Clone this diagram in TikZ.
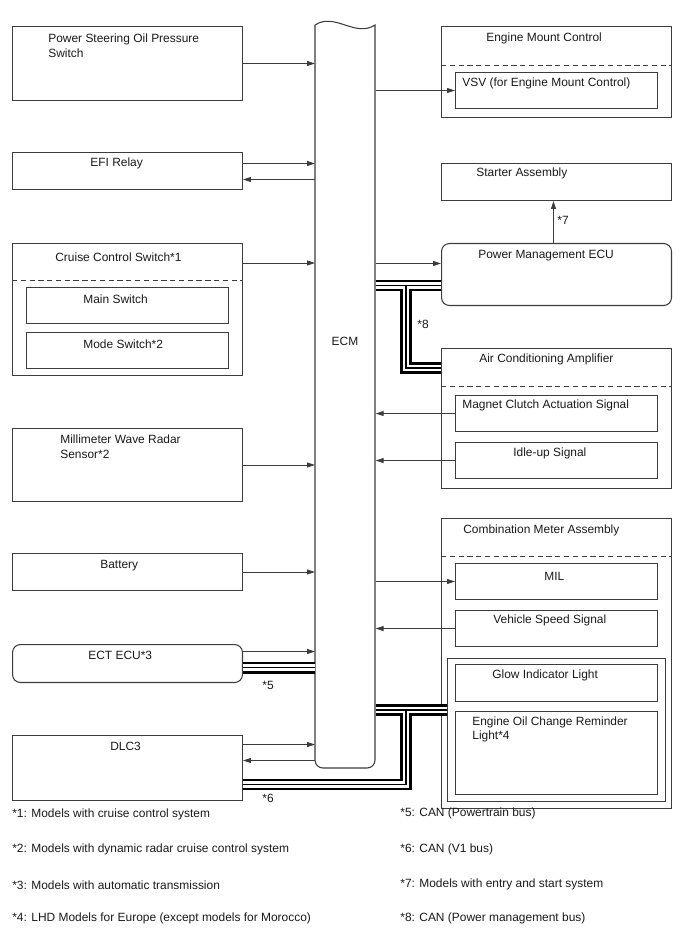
\documentclass[tikz,border=0pt]{standalone}
\usepackage{fontspec}
\setmainfont{Liberation Sans}
\definecolor{linegray}{RGB}{60,60,60}
\definecolor{textblack}{RGB}{25,25,25}
\usetikzlibrary{calc, positioning, arrows.meta}

% the three-line CAN bus runs, drawn once per layer
\newcommand{\canlines}[1]{%
  \draw[#1] (b5) -- (b5 -| ecm.west);
  \draw[#1] (b8 -| ecm.east) -- (b8);
  \draw[#1] (b8 -| tap) -- (tap |- b8a) -- (b8a);
  \draw[#1] (bg -| ecm.east) -- (bg);
  \draw[#1] (bg -| tap) -- (tap |- b6) -- (b6);
}

\begin{document}
\begin{tikzpicture}[x=0.02cm, y=-0.02cm,
    box/.style={draw=linegray, line width=0.6pt, inner sep=0pt, anchor=north west,
      minimum width=4.6cm},
    subbox/.style={box, minimum width=4.04cm, minimum height=0.72cm},
    rbox/.style={box, rounded corners=4.5pt},
    lbl/.style={font=\fontsize{6.8}{8}\selectfont, text=textblack, inner sep=0pt,
      anchor=west, align=left, yshift=-0.035cm},
    sep/.style={draw=linegray, dash pattern=on 3pt off 2pt, line width=0.5pt},
    arrow/.style={-{Triangle[length=4.5pt, width=2.8pt]}, linegray, line width=0.5pt},
    busout/.style={line width=6.8pt, black},
    busgap/.style={line width=3.8pt, white},
    busmid/.style={line width=1pt, black},
  ]
    \useasboundingbox (0,0) rectangle (688,949);

    % left column
    \node[box, minimum height=1.48cm] (pss) at (12,26) {};
    \node[box, minimum height=0.74cm] (efi) at (12,152) {};
    \node[box, minimum height=2.64cm] (ccs) at (12,243) {};
    \node[subbox] (main) at (26,287) {};
    \node[subbox] (mode) at (26,332) {};
    \node[box, minimum height=1.46cm] (mwr) at (12,428) {};
    \node[box, minimum height=0.74cm] (bat) at (12,553) {};
    \node[rbox, minimum height=0.76cm] (ect) at (12,644) {};
    \node[box, minimum height=1.30cm] (dlc) at (12,735) {};

    \node[lbl] (pss-t) at (48,44) {Power Steering Oil Pressure\\Switch};
    \node[lbl] (efi-t) at (90,162) {EFI Relay};
    \node[lbl] (ccs-t) at (55,255) {Cruise Control Switch*1};
    \node[lbl] (main-t) at (83,297) {Main Switch};
    \node[lbl] (mode-t) at (83,342) {Mode Switch*2};
    \node[lbl] (mwr-t) at (60,445) {Millimeter Wave Radar\\Sensor*2};
    \node[lbl] (bat-t) at (100,564) {Battery};
    \node[lbl] (ect-t) at (88,654) {ECT ECU*3};
    \node[lbl] (dlc-t) at (110,745) {DLC3};

    \draw[sep] ([yshift=-0.74cm]ccs.north west) -- ([yshift=-0.74cm]ccs.north east);

    % ECM
    \node[inner sep=0pt, minimum width=1.2cm, minimum height=14.96cm, anchor=north west] (ecm) at (315,20) {};
    \draw[draw=linegray, line width=0.6pt] (315,25) .. controls (335,12) and (355,38) .. (375,25)
      [rounded corners=4.5pt] -- (375,768) -- (315,768) -- (315,25);
    \node[lbl, anchor=center] (ecm-t) at (345,340) {ECM};

    % right column
    \node[box, minimum height=1.82cm] (emc) at (441,26) {};
    \node[subbox] (vsv) at (455,72) {};
    \node[box, minimum height=0.74cm] (sta) at (441,163) {};
    \node[rbox, minimum height=1.24cm] (pm) at (441,243) {};
    \node[box, minimum height=2.80cm] (aca) at (441,348) {};
    \node[subbox] (mca) at (455,395) {};
    \node[subbox] (idle) at (455,442) {};
    \node[box, minimum height=5.80cm] (cma) at (441,518) {};
    \node[subbox] (mil) at (455,563) {};
    \node[subbox] (vss) at (455,610) {};
    \node[box, minimum width=4.36cm, minimum height=2.86cm] (grp) at (447,658) {};
    \node[subbox, minimum height=0.74cm] (glow) at (455,664) {};
    \node[subbox, minimum height=1.66cm] (eoc) at (455,711) {};

    \node[lbl] (emc-t) at (486,37) {Engine Mount Control};
    \node[lbl] (vsv-t) at (462,82) {VSV (for Engine Mount Control)};
    \node[lbl] (sta-t) at (476,172) {Starter Assembly};
    \node[lbl] (pm-t) at (478,254) {Power Management ECU};
    \node[lbl] (aca-t) at (479,358) {Air Conditioning Amplifier};
    \node[lbl] (mca-t) at (462,404) {Magnet Clutch Actuation Signal};
    \node[lbl] (idle-t) at (513,452) {Idle-up Signal};
    \node[lbl] (cma-t) at (463,529) {Combination Meter Assembly};
    \node[lbl] (mil-t) at (544,575) {MIL};
    \node[lbl] (vss-t) at (493,619) {Vehicle Speed Signal};
    \node[lbl] (glow-t) at (492,674) {Glow Indicator Light};
    \node[lbl] (eoc-t) at (472,728) {Engine Oil Change Reminder\\Light*4};

    \draw[sep] ([yshift=-0.78cm]emc.north west) -- ([yshift=-0.78cm]emc.north east);
    \draw[sep] ([yshift=-0.76cm]aca.north west) -- ([yshift=-0.76cm]aca.north east);
    \draw[sep] ([yshift=-0.76cm]cma.north west) -- ([yshift=-0.76cm]cma.north east);

    % signal lines
    \draw[arrow] (pss.east) -- (pss.east -| ecm.west);
    \draw[arrow] ([yshift=0.15cm]efi.east) -- ([yshift=0.15cm]efi.east -| ecm.west);
    \draw[arrow] ([yshift=-0.17cm]efi.east -| ecm.west) -- ([yshift=-0.17cm]efi.east);
    \draw[arrow] ([yshift=-0.4cm]ccs.north east) -- ([yshift=-0.4cm]ccs.north east -| ecm.west);
    \draw[arrow] (mwr.east) -- (mwr.east -| ecm.west);
    \draw[arrow] (bat.east) -- (bat.east -| ecm.west);
    \draw[arrow] ([yshift=0.24cm]ect.east) -- ([yshift=0.24cm]ect.east -| ecm.west);
    \draw[arrow] ([yshift=0.47cm]dlc.east) -- ([yshift=0.47cm]dlc.east -| ecm.west);
    \draw[arrow] ([yshift=0.15cm]dlc.east -| ecm.west) -- ([yshift=0.15cm]dlc.east);
    \draw[arrow] (vsv.west -| ecm.east) -- (vsv.west);
    \draw[arrow] ([xshift=-0.06cm]pm.north) -- ([xshift=-0.06cm]sta.south);
    \draw[arrow] ([yshift=0.22cm]pm.west -| ecm.east) -- ([yshift=0.22cm]pm.west);
    \draw[arrow] (mca.west) -- (mca.west -| ecm.east);
    \draw[arrow] (idle.west) -- (idle.west -| ecm.east);
    \draw[arrow] (mil.west -| ecm.east) -- (mil.west);
    \draw[arrow] (vss.west) -- (vss.west -| ecm.east);

    % CAN buses
    \coordinate (b5) at ([yshift=-0.08cm]ect.east);
    \coordinate (b6) at ([yshift=-0.33cm]dlc.east);
    \coordinate (b8) at ([yshift=-0.22cm]pm.west);
    \coordinate (b8a) at ([yshift=-0.40cm]aca.north west);
    \coordinate (bg) at ([yshift=0.40cm]grp.west);
    \coordinate (tap) at (406,0);
    \canlines{busout}
    \canlines{busgap}
    \canlines{busmid}

    \node[lbl] (n5) at (262,684) {*5};
    \node[lbl] (n6) at (262,797) {*6};
    \node[lbl] (n7) at (557,219) {*7};
    \node[lbl] (n8) at (417,323) {*8};

    % footnotes
    \node[lbl] (f1) at (12,813) {*1: Models with cruise control system};
    \node[lbl] (f2) at (12,848) {*2: Models with dynamic radar cruise control system};
    \node[lbl] (f3) at (12,883) {*3: Models with automatic transmission};
    \node[lbl] (f4) at (12,917) {*4: LHD Models for Europe (except models for Morocco)};
    \node[lbl] (f5) at (400,812) {*5: CAN (Powertrain bus)};
    \node[lbl] (f6) at (400,848) {*6: CAN (V1 bus)};
    \node[lbl] (f7) at (400,883) {*7: Models with entry and start system};
    \node[lbl] (f8) at (400,917) {*8: CAN (Power management bus)};
  \end{tikzpicture}
\end{document}
